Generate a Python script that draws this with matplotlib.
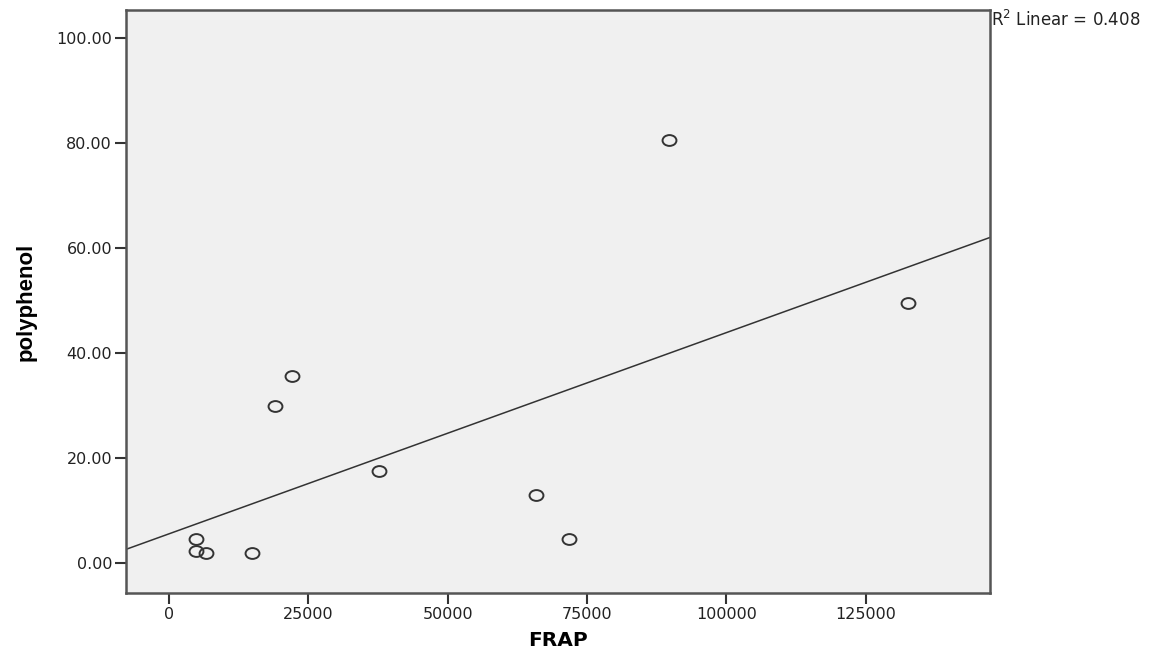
import numpy as np
import matplotlib
matplotlib.use('Agg')
import matplotlib.pyplot as plt
from matplotlib.path import Path

# FRAP vs polyphenol
frap = [4900, 4800, 6600, 14900, 19000, 22000, 37600, 65900, 71800, 89700, 132600]
polyphenol = [4.57, 2.34, 1.96, 1.96, 29.9, 35.6, 17.6, 13.0, 4.63, 80.6, 49.6]

x_ticks = [0, 25000, 50000, 75000, 100000, 125000]
y_ticks = [0, 20, 40, 60, 80, 100]
x_lim = (-7700, 147300)
y_lim = (-5.66, 105.4)

plt.rcParams['font.family'] = ['DejaVu Sans']

W, H = 1161, 651
fig = plt.figure(figsize=(W / 100, H / 100), dpi=100)
ax = fig.add_axes([126 / W, (H - 593) / H, (990 - 126) / W, (593 - 10) / H])
ax.set_facecolor('#f0f0f0')

# slightly flattened circle, like the original markers
circ = Path.unit_circle()
ellipse = Path(circ.vertices * [1.0, 0.78], circ.codes)

ax.plot(frap, polyphenol, linestyle='none', marker=ellipse, markersize=10,
        markerfacecolor='none', markeredgecolor='#333333', markeredgewidth=1.4, zorder=3)

# least squares line over the full x range
slope, intercept = np.polyfit(frap, polyphenol, 1)
xs = np.array(x_lim)
ax.plot(xs, slope * xs + intercept, color='#333333', linewidth=1.1, zorder=2)

ax.set_xlim(*x_lim)
ax.set_ylim(*y_lim)
ax.set_xticks(x_ticks)
ax.set_xticklabels([str(t) for t in x_ticks])
ax.set_yticks(y_ticks)
ax.set_yticklabels(['%.2f' % t for t in y_ticks])
ax.tick_params(direction='out', length=8, width=1.5, color='#333333',
               labelsize=11.5, pad=2, labelcolor='#222222')

for s in ax.spines.values():
    s.set_color('#555555')
    s.set_linewidth(1.8)

ax.set_xlabel('FRAP', fontsize=14.5, fontweight='bold')
ax.xaxis.set_label_coords(0.5, -0.066)
ax.set_ylabel('polyphenol', fontsize=16, fontweight='bold',
              family=['Liberation Sans Narrow', 'Liberation Sans'])
ax.yaxis.set_label_coords(-0.104, 0.5)

fig.text(991 / W, 1 - 20 / H, r'R$^2$ Linear = 0.408', fontsize=12,
         va='center', ha='left', color='#222222')

fig.savefig('out.png', dpi=100)
